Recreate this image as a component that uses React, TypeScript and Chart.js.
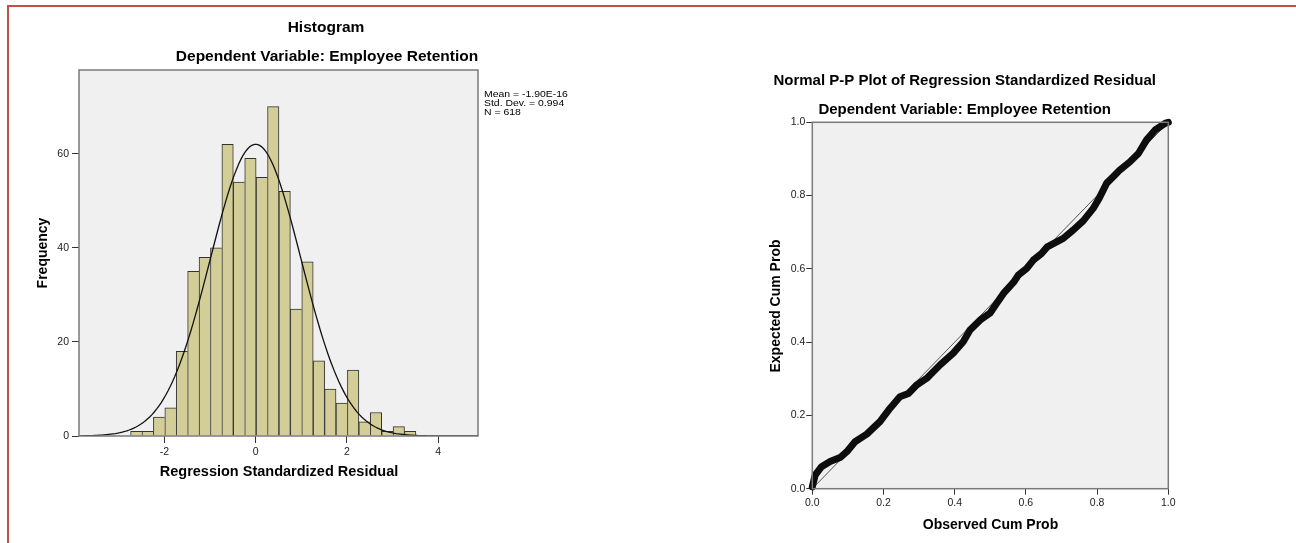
import React, { useEffect, useRef } from "react";
import { Chart, registerables } from "chart.js";

Chart.register(...registerables);

const FONT = "'Liberation Sans', Arial, Helvetica, sans-serif";

// ---------- Histogram data ----------
const BIN_CENTERS = [
  -2.615, -2.365, -2.115, -1.865, -1.615, -1.365, -1.115, -0.865, -0.615, -0.365,
  -0.115, 0.135, 0.385, 0.635, 0.885, 1.135, 1.385, 1.635, 1.885, 2.135,
  2.385, 2.635, 2.885, 3.135, 3.385,
];
const BIN_COUNTS = [
  1, 1, 4, 6, 18, 35, 38, 40, 62, 54,
  59, 55, 70, 52, 27, 37, 16, 10, 7, 14,
  3, 5, 1, 2, 1,
];
const HIST_X_TICKS = [-2, 0, 2, 4];
const HIST_Y_TICKS = [0, 20, 40, 60];
const HIST_X_MIN = -3.87;
const HIST_X_MAX = 4.87;
const HIST_Y_MAX = 77.8;
const STAT_MEAN = -1.9e-16;
const STAT_SD = 0.994;
const STAT_N = 618;
const BIN_WIDTH = 0.25;
const STAT_LINES = ["Mean = -1.90E-16", "Std. Dev. = 0.994", "N = 618"];

// ---------- P-P plot data ----------
const PP_OBSERVED = [
  0, 0.008, 0.026, 0.05, 0.078, 0.097, 0.12, 0.153, 0.19, 0.218,
  0.246, 0.27, 0.293, 0.321, 0.359, 0.396, 0.424, 0.443, 0.471, 0.499,
  0.518, 0.537, 0.565, 0.579, 0.602, 0.621, 0.644, 0.66, 0.705, 0.733,
  0.761, 0.789, 0.806, 0.827, 0.846, 0.864, 0.892, 0.916, 0.939, 0.963,
  0.991, 1.0,
];
const PP_EXPECTED = [
  0.005, 0.037, 0.06, 0.074, 0.085, 0.101, 0.128, 0.149, 0.183, 0.219,
  0.251, 0.26, 0.283, 0.301, 0.338, 0.37, 0.401, 0.433, 0.46, 0.479,
  0.506, 0.533, 0.563, 0.583, 0.601, 0.624, 0.642, 0.66, 0.683, 0.706,
  0.731, 0.765, 0.793, 0.834, 0.852, 0.87, 0.892, 0.915, 0.952, 0.979,
  0.997, 1.0,
];
const PP_TICKS = [0, 0.2, 0.4, 0.6, 0.8, 1.0];

type Txt = {
  t: string;
  x: number;
  y: number;
  font: string;
  align?: CanvasTextAlign;
  rot?: number;
  sx?: number;
  color?: string;
};

function textPlugin(items: Txt[]) {
  return {
    id: "texts",
    afterDraw(chart: any) {
      const ctx = chart.ctx as CanvasRenderingContext2D;
      for (const it of items) {
        ctx.save();
        ctx.font = it.font;
        ctx.fillStyle = it.color || "#000";
        ctx.textAlign = it.align || "center";
        ctx.textBaseline = "middle";
        ctx.translate(it.x, it.y);
        if (it.rot) ctx.rotate(it.rot);
        if (it.sx) ctx.scale(it.sx, 1);
        ctx.fillText(it.t, 0, 0);
        ctx.restore();
      }
    },
  };
}

const framePlugin = {
  id: "frame",
  beforeDraw(chart: any) {
    const { ctx, chartArea: a } = chart;
    ctx.save();
    ctx.fillStyle = "#f0f0f0";
    ctx.fillRect(a.left, a.top, a.right - a.left, a.bottom - a.top);
    ctx.restore();
  },
  afterDatasetsDraw(chart: any) {
    const { ctx, chartArea: a } = chart;
    ctx.save();
    ctx.strokeStyle = "#7a7a7a";
    ctx.lineWidth = 1.5;
    ctx.strokeRect(a.left, a.top, a.right - a.left, a.bottom - a.top);
    ctx.restore();
  },
};

function tickGrid(len: number) {
  return {
    display: true,
    drawOnChartArea: false,
    drawTicks: true,
    tickLength: len,
    color: "#333",
    lineWidth: 1,
    offset: false,
  };
}

function HistogramChart() {
  const ref = useRef<HTMLCanvasElement>(null);
  useEffect(() => {
    if (!ref.current) return;
    const k = (STAT_N * BIN_WIDTH) / (STAT_SD * Math.sqrt(2 * Math.PI));
    const curve: { x: number; y: number }[] = [];
    const steps = 175;
    for (let i = 0; i <= steps; i++) {
      const x = HIST_X_MIN + ((HIST_X_MAX - HIST_X_MIN) * i) / steps;
      const z = (x - STAT_MEAN) / STAT_SD;
      curve.push({ x, y: k * Math.exp(-0.5 * z * z) });
    }
    const bars = BIN_CENTERS.map((c, i) => ({ x: c, y: BIN_COUNTS[i] }));
    const texts: Txt[] = [
      { t: "Histogram", x: 326, y: 28, font: `bold 15.5px ${FONT}` },
      { t: "Dependent Variable: Employee Retention", x: 327, y: 57, font: `bold 15.5px ${FONT}` },
      { t: "Frequency", x: 43, y: 253, font: `bold 14px ${FONT}`, rot: -Math.PI / 2 },
      { t: "Regression Standardized Residual", x: 279, y: 472, font: `bold 14.5px ${FONT}` },
      ...STAT_LINES.map((s, i) => ({
        t: s,
        x: 484,
        y: 95 + i * 9,
        font: "normal 400 9px 'Liberation Sans', sans-serif",
        align: "left" as CanvasTextAlign,
        sx: 1.16,
      })),
    ];
    const chart = new Chart(ref.current, {
      type: "bar",
      data: {
        datasets: [
          {
            type: "line",
            data: curve,
            borderColor: "#111",
            borderWidth: 1.3,
            pointRadius: 0,
            tension: 0,
            order: 0,
          } as any,
          {
            type: "bar",
            data: bars,
            backgroundColor: "#d3ce97",
            borderColor: "#333",
            borderSkipped: false,
            borderWidth: (ctx: any) => {
              const i = ctx.dataIndex;
              const next = BIN_COUNTS[i + 1];
              const right = next === undefined || next < BIN_COUNTS[i] ? 1 : 0;
              return { top: 1, left: 1, right, bottom: 0 };
            },
            barPercentage: 1,
            categoryPercentage: 1,
            order: 1,
          } as any,
        ],
      },
      options: {
        animation: false,
        responsive: false,
        devicePixelRatio: 1,
        layout: { padding: { left: 34, top: 70, right: 162, bottom: 67 } },
        plugins: {
          legend: { display: false },
          tooltip: { enabled: false },
          title: { display: false },
        },
        scales: {
          x: {
            type: "linear",
            min: HIST_X_MIN,
            max: HIST_X_MAX,
            offset: false,
            grid: tickGrid(7) as any,
            border: { display: false },
            ticks: {
              font: { family: FONT, size: 10.5 },
              color: "#222",
              padding: 3,
              maxRotation: 0,
              autoSkip: false,
            },
            afterBuildTicks: (s: any) => {
              s.ticks = HIST_X_TICKS.map((v) => ({ value: v }));
            },
            afterFit: (s: any) => {
              s.height = 40;
            },
          },
          y: {
            type: "linear",
            min: 0,
            max: HIST_Y_MAX,
            grid: tickGrid(7) as any,
            border: { display: false },
            ticks: {
              font: { family: FONT, size: 10.5 },
              color: "#222",
              padding: 3,
              autoSkip: false,
            },
            afterBuildTicks: (s: any) => {
              s.ticks = HIST_Y_TICKS.map((v) => ({ value: v }));
            },
            afterFit: (s: any) => {
              s.width = 45;
            },
          },
        },
      } as any,
      plugins: [framePlugin, textPlugin(texts)],
    });
    return () => chart.destroy();
  }, []);
  return (
    <canvas
      ref={ref}
      width={640}
      height={543}
      style={{ position: "absolute", left: 0, top: 0, width: 640, height: 543 }}
    />
  );
}

function PPChart() {
  const ref = useRef<HTMLCanvasElement>(null);
  useEffect(() => {
    if (!ref.current) return;
    const pts = PP_OBSERVED.map((x, i) => ({ x, y: PP_EXPECTED[i] }));
    const texts: Txt[] = [
      { t: "Normal P-P Plot of Regression Standardized Residual", x: 324.7, y: 81, font: `bold 15px ${FONT}` },
      { t: "Dependent Variable: Employee Retention", x: 324.7, y: 110, font: `bold 15px ${FONT}` },
      { t: "Expected Cum Prob", x: 136, y: 306, font: `bold 14px ${FONT}`, rot: -Math.PI / 2 },
      { t: "Observed Cum Prob", x: 350.5, y: 525, font: `bold 14px ${FONT}` },
    ];
    const chart = new Chart(ref.current, {
      type: "scatter",
      data: {
        datasets: [
          {
            data: pts,
            showLine: true,
            borderColor: "#0d0d0d",
            borderWidth: 7,
            borderCapStyle: "round",
            borderJoinStyle: "round",
            pointRadius: 0,
            tension: 0,
            clip: false,
            order: 0,
          } as any,
          {
            data: [
              { x: 0, y: 0 },
              { x: 1, y: 1 },
            ],
            showLine: true,
            borderColor: "#555",
            borderWidth: 1,
            pointRadius: 0,
            order: 1,
          } as any,
        ],
      },
      options: {
        animation: false,
        responsive: false,
        devicePixelRatio: 1,
        layout: { padding: { left: 132.3, top: 122.3, right: 127.7, bottom: 24.3 } },
        plugins: {
          legend: { display: false },
          tooltip: { enabled: false },
          title: { display: false },
        },
        scales: {
          x: {
            type: "linear",
            min: 0,
            max: 1,
            grid: tickGrid(6) as any,
            border: { display: false },
            ticks: {
              font: { family: FONT, size: 10.5 },
              color: "#222",
              padding: 2,
              maxRotation: 0,
              autoSkip: false,
              callback: (v: any) => Number(v).toFixed(1),
            },
            afterBuildTicks: (s: any) => {
              s.ticks = PP_TICKS.map((v) => ({ value: v }));
            },
            afterFit: (s: any) => {
              s.height = 30;
            },
          },
          y: {
            type: "linear",
            min: 0,
            max: 1,
            grid: tickGrid(6) as any,
            border: { display: false },
            ticks: {
              font: { family: FONT, size: 10.5 },
              color: "#222",
              padding: 1,
              autoSkip: false,
              callback: (v: any) => Number(v).toFixed(1),
            },
            afterBuildTicks: (s: any) => {
              s.ticks = PP_TICKS.map((v) => ({ value: v }));
            },
            afterFit: (s: any) => {
              s.width = 40;
            },
          },
        },
      } as any,
      plugins: [framePlugin, textPlugin(texts)],
    });
    return () => chart.destroy();
  }, []);
  return (
    <canvas
      ref={ref}
      width={656}
      height={543}
      style={{ position: "absolute", left: 640, top: 0, width: 656, height: 543 }}
    />
  );
}

export default function App() {
  return (
    <div
      style={{
        position: "absolute",
        left: 0,
        top: 0,
        width: 1296,
        height: 543,
        background: "#fff",
        overflow: "hidden",
      }}
    >
      <HistogramChart />
      <PPChart />
      <div
        style={{
          position: "absolute",
          left: 7,
          top: 5,
          width: 1400,
          height: 700,
          borderTop: "2px solid #c0504d",
          borderLeft: "2px solid #c0504d",
          pointerEvents: "none",
        }}
      />
    </div>
  );
}
